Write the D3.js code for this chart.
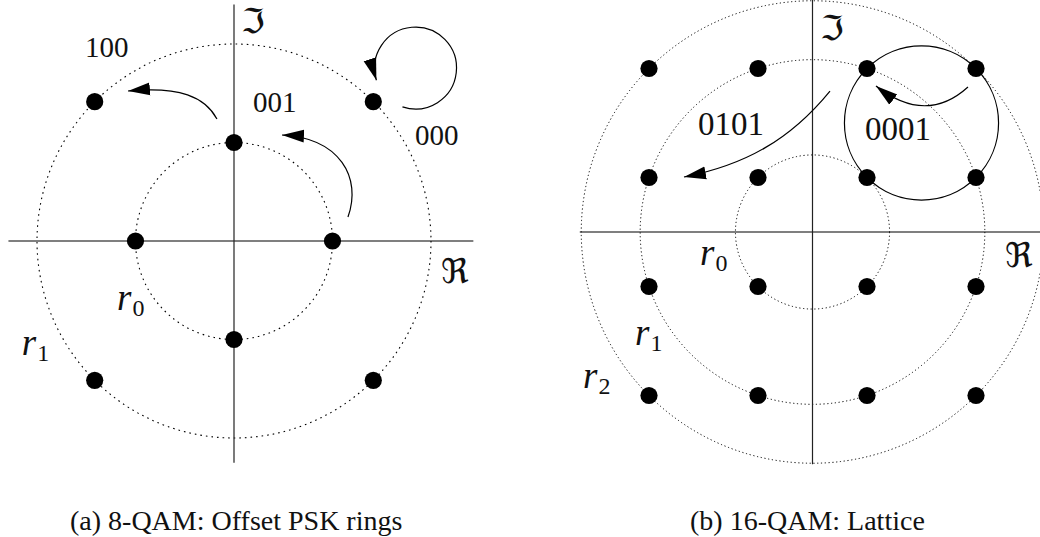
<!DOCTYPE html>
<html>
<head>
<meta charset="utf-8">
<script src="https://cdn.jsdelivr.net/npm/d3@7"></script>
</head>
<body style="margin:0; background:#fff">
<svg id="chart" width="1040" height="537" style="display:block"></svg>
<script>
// ---- (a) 8-QAM, offset PSK rings ----
var ringsA = [1, 2];                       // r0, r1 (in units of r0)
var pointsA = [                            // ring index, phase in degrees
  {ring: 0, angle: 0}, {ring: 0, angle: 90}, {ring: 0, angle: 180}, {ring: 0, angle: 270},
  {ring: 1, angle: 45}, {ring: 1, angle: 135}, {ring: 1, angle: 225}, {ring: 1, angle: 315}
];
var bitLabelsA = [
  {text: "100", x: -1.513, y: 1.868},
  {text: "001", x: 0.193, y: 1.310},
  {text: "000", x: 1.838, y: 0.975}
];
var ringLabelsA = [
  {sub: "0", x: -1.188, y: -0.701},
  {sub: "1", x: -2.155, y: -1.157}
];
var arrowsA = [   // cubic curves, last point is the arrow tip
  [[1.157, 0.244], [1.30, 0.64], [1.076, 1.046], [0.487, 1.076]],
  [[-0.173, 1.239], [-0.294, 1.462], [-0.548, 1.574], [-1.076, 1.523]]
];
var loopA = {x: 1.843, y: 1.756, r: 0.416, from: 108.6, to: 162.7};

// ---- (b) 16-QAM, lattice ----
var levelsB = [-3, -1, 1, 3];
var ringsB = [1.414, 3.162, 4.243];        // sqrt(2), sqrt(10), sqrt(18)
var bitLabelsB = [
  {text: "0101", x: -2.101, y: 1.780},
  {text: "0001", x: 0.963, y: 1.688}
];
var ringLabelsB = [
  {sub: "0", x: -2.064, y: -0.606},
  {sub: "1", x: -3.257, y: -2.073},
  {sub: "2", x: -4.211, y: -2.862}
];
var arrowsB = [
  [[0.321, 2.587], [-0.413, 1.688], [-1.239, 1.229], [-2.358, 1.009]],
  [[2.853, 2.661], [2.083, 1.963], [1.165, 2.679]]      // quadratic
];
var groupB = {x: 2, y: 2, r: 1.414};

var captions = ["(a) 8-QAM: Offset PSK rings", "(b) 16-QAM: Lattice"];

var serif = "Liberation Serif";
var frak = "DejaVu Sans";
var ink = "#111";

var svg = d3.select("#chart");
var defs = svg.append("defs");
defs.append("marker")
    .attr("id", "head")
    .attr("markerUnits", "userSpaceOnUse")
    .attr("viewBox", "0 -8 24 16")
    .attr("markerWidth", 24).attr("markerHeight", 16)
    .attr("refX", 22).attr("refY", 0)
    .attr("orient", "auto")
  .append("path")
    .attr("d", "M0,-6.5L22,0L0,6.5Z")
    .attr("fill", "#000");

function makePanel(cx, cy, unit) {
  return {
    x: d3.scaleLinear().domain([0, 1]).range([cx, cx + unit]),
    y: d3.scaleLinear().domain([0, 1]).range([cy, cy - unit]),
    unit: unit
  };
}

function drawAxes(g, p, xExt, yExt) {
  g.append("line")
      .attr("x1", p.x(xExt[0])).attr("x2", p.x(xExt[1]))
      .attr("y1", p.y(0)).attr("y2", p.y(0))
      .attr("stroke", "#000").attr("stroke-width", 1.2);
  g.append("line")
      .attr("x1", p.x(0)).attr("x2", p.x(0))
      .attr("y1", p.y(yExt[0])).attr("y2", p.y(yExt[1]))
      .attr("stroke", "#222").attr("stroke-width", 1.2);
}

function drawRings(g, p, rings, dash, w) {
  g.selectAll("circle.ring")
    .data(rings)
    .enter()
    .append("circle")
      .attr("class", "ring")
      .attr("cx", p.x(0)).attr("cy", p.y(0))
      .attr("r", function(r){ return r * p.unit; })
      .attr("fill", "none")
      .attr("stroke", "#000")
      .attr("stroke-width", w)
      .attr("stroke-dasharray", dash);
}

function drawDots(g, p, pts) {
  g.selectAll("circle.pt")
    .data(pts)
    .enter()
    .append("circle")
      .attr("class", "pt")
      .attr("cx", function(d){ return p.x(d[0]); })
      .attr("cy", function(d){ return p.y(d[1]); })
      .attr("r", 8.6)
      .attr("fill", "#000");
}

function drawArrow(g, p, pts) {
  var path = d3.path();
  path.moveTo(p.x(pts[0][0]), p.y(pts[0][1]));
  if (pts.length == 4) {
    path.bezierCurveTo(p.x(pts[1][0]), p.y(pts[1][1]), p.x(pts[2][0]), p.y(pts[2][1]),
                       p.x(pts[3][0]), p.y(pts[3][1]));
  } else {
    path.quadraticCurveTo(p.x(pts[1][0]), p.y(pts[1][1]), p.x(pts[2][0]), p.y(pts[2][1]));
  }
  g.append("path")
      .attr("d", path.toString())
      .attr("fill", "none")
      .attr("stroke", "#000")
      .attr("stroke-width", 1.2)
      .attr("marker-end", "url(#head)");
}

function drawBitLabels(g, p, labels, size) {
  g.selectAll("text.bits")
    .data(labels)
    .enter()
    .append("text")
      .attr("class", "bits")
      .attr("x", function(d){ return p.x(d.x); })
      .attr("y", function(d){ return p.y(d.y); })
      .style("font-family", serif)
      .style("font-size", size + "px")
      .style("fill", ink)
      .text(function(d){ return d.text; });
}

function drawRingLabels(g, p, labels) {
  var t = g.selectAll("text.rl")
    .data(labels)
    .enter()
    .append("text")
      .attr("class", "rl")
      .attr("x", function(d){ return p.x(d.x); })
      .attr("y", function(d){ return p.y(d.y); })
      .style("font-family", serif)
      .style("fill", ink);
  t.append("tspan")
      .style("font-style", "italic")
      .style("font-size", "37px")
      .text("r");
  t.append("tspan")
      .style("font-size", "24px")
      .attr("dx", 1)
      .attr("dy", 6)
      .text(function(d){ return d.sub; });
}

function drawSymbols(g, p, im, re, size) {
  [[im, "\u2111"], [re, "\u211C"]].forEach(function(s){
    g.append("text")
        .attr("x", p.x(s[0][0])).attr("y", p.y(s[0][1]))
        .style("font-family", frak)
        .style("font-size", size + "px")
        .style("fill", ink)
        .text(s[1]);
  });
}

// panel (a)
var pa = makePanel(234, 241, 98.5);
var ga = svg.append("g");
drawRings(ga, pa, ringsA, "1.6,4", 1.1);
drawAxes(ga, pa, [-2.29, 2.43], [-2.25, 2.40]);
drawDots(ga, pa, pointsA.map(function(d){
  var a = d.angle * Math.PI / 180;
  return [ringsA[d.ring] * Math.cos(a), ringsA[d.ring] * Math.sin(a)];
}));
arrowsA.forEach(function(a){ drawArrow(ga, pa, a); });
var loop = d3.path();
var a0 = loopA.from * Math.PI / 180, a1 = loopA.to * Math.PI / 180;
var lr = loopA.r * pa.unit;
loop.moveTo(pa.x(loopA.x) + lr * Math.cos(a0), pa.y(loopA.y) + lr * Math.sin(a0));
loop.arc(pa.x(loopA.x), pa.y(loopA.y), lr, a0, a1, true);
ga.append("path")
    .attr("d", loop.toString())
    .attr("fill", "none").attr("stroke", "#000").attr("stroke-width", 1.2)
    .attr("marker-end", "url(#head)");
drawBitLabels(ga, pa, bitLabelsA, 29);
drawRingLabels(ga, pa, ringLabelsA);
drawSymbols(ga, pa, [0.071, 2.112], [2.102, -0.426], 34);

// panel (b)
var pb = makePanel(812.5, 232, 54.5);
var gb = svg.append("g");
drawRings(gb, pb, ringsB, "1.2,2.6", 1);
drawAxes(gb, pb, [-4.27, 4.36], [-4.26, 4.26]);
gb.append("circle")
    .attr("cx", pb.x(groupB.x)).attr("cy", pb.y(groupB.y))
    .attr("r", groupB.r * pb.unit)
    .attr("fill", "none").attr("stroke", "#000").attr("stroke-width", 1.2);
drawDots(gb, pb, d3.cross(levelsB, levelsB));
arrowsB.forEach(function(a){ drawArrow(gb, pb, a); });
drawBitLabels(gb, pb, bitLabelsB, 33);
drawRingLabels(gb, pb, ringLabelsB);
drawSymbols(gb, pb, [0.138, 3.523], [3.532, -0.642], 34);

// captions
svg.selectAll("text.cap")
  .data(captions)
  .enter()
  .append("text")
    .attr("class", "cap")
    .attr("x", function(d, i){ return i == 0 ? 70 : 690; })
    .attr("y", 530)
    .style("font-family", serif)
    .style("font-size", "28px")
    .style("fill", ink)
    .text(function(d){ return d; });
</script>
</body>
</html>
